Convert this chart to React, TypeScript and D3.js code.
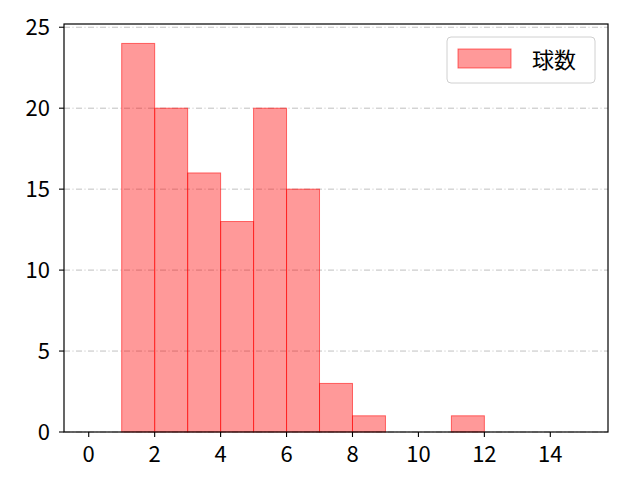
import React from "react";
import * as d3 from "d3";

const binStarts = [1, 2, 3, 4, 5, 6, 7, 8, 11];
const binCounts = [24, 20, 16, 13, 20, 15, 3, 1, 1];
const xTicks = [0, 2, 4, 6, 8, 10, 12, 14];
const yTicks = [0, 5, 10, 15, 20, 25];
const seriesName = "球数";

const W = 640, H = 480;
const L = 64, R = 608, T = 24, B = 432;
const FONT = "'Noto Sans CJK JP', 'DejaVu Sans', sans-serif";
const FS = 22;

export default function App() {
  const x = d3.scaleLinear().domain([-0.75, 15.75]).range([L, R]);
  const y = d3.scaleLinear().domain([0, 25.2]).range([B, T]);
  return (
    <svg width={W} height={H} style={{ position: "absolute", left: 0, top: 0, background: "#fff" }}>
      <rect x={0} y={0} width={W} height={H} fill="#fff" />
      {yTicks.map((t) => (
        <line key={"g" + t} x1={L} x2={R} y1={y(t)} y2={y(t)} stroke="#b0b0b0" strokeWidth={0.8} strokeDasharray="6,2.5,1,2.5" />
      ))}
      {binStarts.map((s, i) => (
        <rect key={i} x={x(s)} y={y(binCounts[i])} width={x(s + 1) - x(s)} height={B - y(binCounts[i])}
          fill="rgba(255,0,0,0.4)" stroke="rgba(255,0,0,0.55)" strokeWidth={1} />
      ))}
      <rect x={L} y={T} width={R - L} height={B - T} fill="none" stroke="#000" strokeWidth={1.2} />
      {xTicks.map((t) => (
        <g key={"x" + t}>
          <line x1={x(t)} x2={x(t)} y1={B} y2={B + 5} stroke="#000" strokeWidth={1.1} />
          <text x={x(t)} y={B + 30} textAnchor="middle" fontFamily={FONT} fontSize={FS} fill="#000">{t}</text>
        </g>
      ))}
      {yTicks.map((t) => (
        <g key={"y" + t}>
          <line x1={L - 5} x2={L} y1={y(t)} y2={y(t)} stroke="#000" strokeWidth={1.1} />
          <text x={L - 14} y={y(t) + 8} textAnchor="end" fontFamily={FONT} fontSize={FS} fill="#000">{t}</text>
        </g>
      ))}
      <g>
        <rect x={447} y={37} width={148} height={46} rx={4} fill="#fff" fillOpacity={0.8} stroke="#d0d0d0" strokeWidth={1} />
        <rect x={458} y={49} width={53} height={19} fill="rgba(255,0,0,0.4)" stroke="rgba(255,0,0,0.55)" strokeWidth={1} />
        <text x={532} y={68} fontFamily={FONT} fontSize={FS} fill="#000">{seriesName}</text>
      </g>
    </svg>
  );
}
